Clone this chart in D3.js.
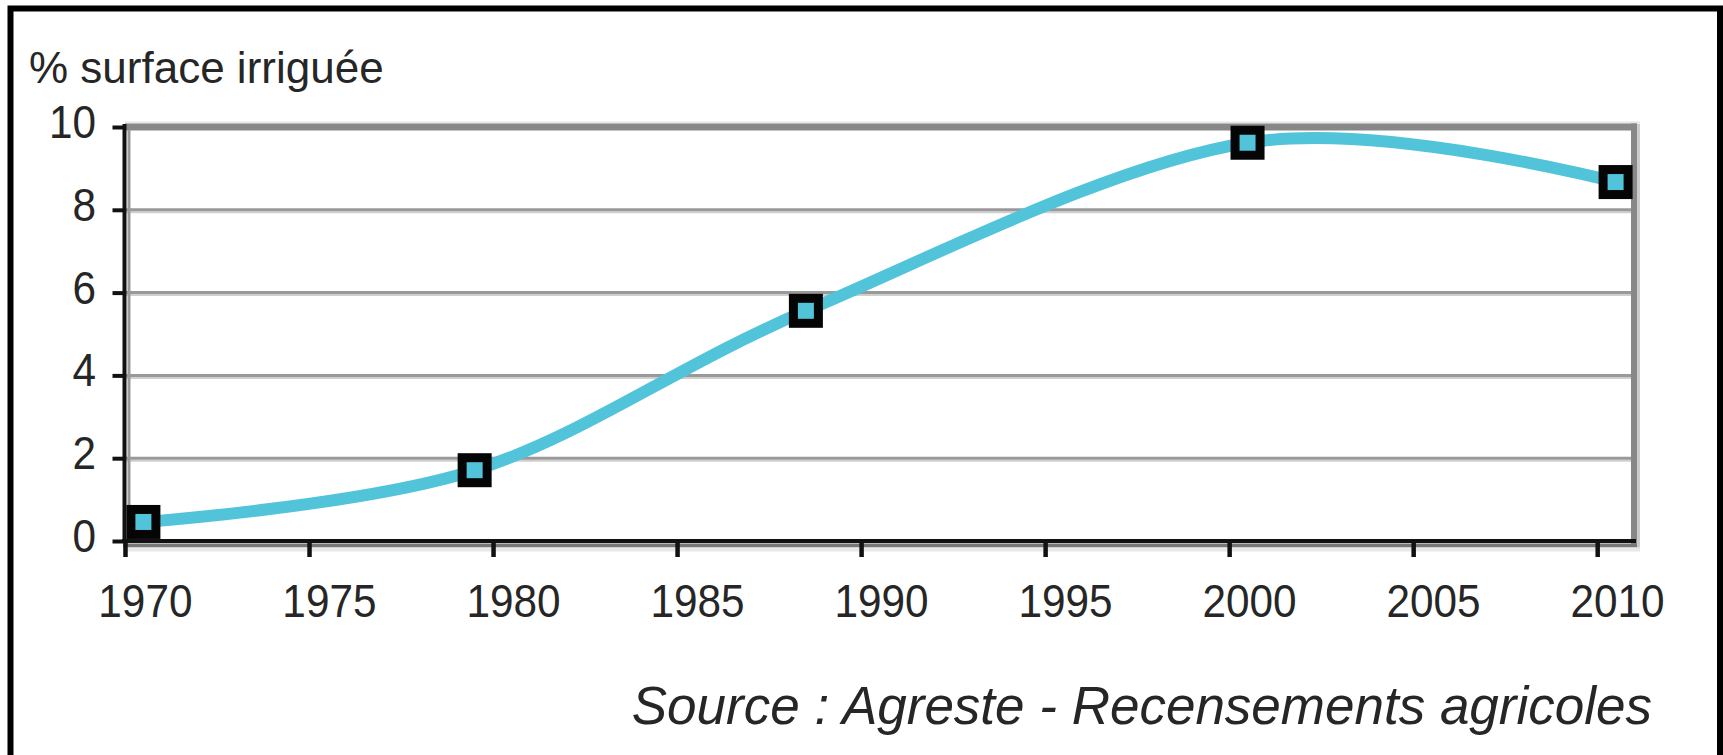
<!DOCTYPE html>
<html>
<head>
<meta charset="utf-8">
<script src="https://cdn.jsdelivr.net/npm/d3@7/dist/d3.min.js"></script>
<style>
  html, body { margin: 0; padding: 0; background: #fff; }
  svg { display: block; }
  text { font-family: "Liberation Sans", Arial, sans-serif; fill: #262626; }
</style>
</head>
<body>
<svg id="chart" width="1723" height="755"></svg>
<script>
// ---- data ----
const years = [1970, 1979, 1988, 2000, 2010];
const values = [0.46, 1.71, 5.56, 9.62, 8.67];
const xTickYears = [1970, 1975, 1980, 1985, 1990, 1995, 2000, 2005, 2010];
const yTickValues = [0, 2, 4, 6, 8, 10];
const yTitle = "% surface irriguée";
const sourceText = "Source : Agreste - Recensements agricoles";

const svg = d3.select("#chart");
const W = 1723, H = 755;
const pLeft = 125, pRight = 1634, pTop = 127, pBottom = 541;

const x = d3.scaleLinear().domain([1970, 2011]).range([pLeft, pRight]);
const y = d3.scaleLinear().domain([0, 10]).range([pBottom, pTop]);
const mid = v => x(v + 0.5);

svg.append("rect").attr("width", W).attr("height", H).attr("fill", "#fff");

// outer frame (left, top, right)
svg.append("path")
  .attr("d", `M10.5,${H + 10} L10.5,8.5 L1720,8.5 L1720,${H + 10}`)
  .attr("fill", "none").attr("stroke", "#000").attr("stroke-width", 6);

// gridlines
const gridVals = yTickValues.filter(v => v > 0 && v < 10);
const grid = svg.append("g");
grid.selectAll("line.g1").data(gridVals).join("line").attr("class", "g1")
  .attr("x1", pLeft).attr("x2", pRight)
  .attr("y1", d => y(d) + 2.5).attr("y2", d => y(d) + 2.5)
  .attr("stroke", "#cfcfcf").attr("stroke-width", 2);
grid.selectAll("line.g2").data(gridVals).join("line").attr("class", "g2")
  .attr("x1", pLeft).attr("x2", pRight)
  .attr("y1", d => y(d)).attr("y2", d => y(d))
  .attr("stroke", "#999").attr("stroke-width", 3);

// plot frame: top & right gray border with light shadow
svg.append("line").attr("x1", pLeft).attr("x2", pRight + 6).attr("y1", pTop - 4.5).attr("y2", pTop - 4.5)
  .attr("stroke", "#e6e6e6").attr("stroke-width", 2);
svg.append("line").attr("x1", pRight + 4.5).attr("x2", pRight + 4.5).attr("y1", pTop - 3).attr("y2", pBottom + 8)
  .attr("stroke", "#cccccc").attr("stroke-width", 3);
svg.append("line").attr("x1", pLeft).attr("x2", pRight + 3).attr("y1", pTop).attr("y2", pTop)
  .attr("stroke", "#888").attr("stroke-width", 7);
svg.append("line").attr("x1", pRight).attr("x2", pRight).attr("y1", pTop - 3.5).attr("y2", pBottom + 5)
  .attr("stroke", "#888").attr("stroke-width", 6);

// inner gray line next to y axis & shadow under x axis
svg.append("line").attr("x1", pLeft + 4).attr("x2", pLeft + 4).attr("y1", pTop + 3).attr("y2", pBottom)
  .attr("stroke", "#999").attr("stroke-width", 3);
svg.append("line").attr("x1", pLeft - 2).attr("x2", pRight + 3).attr("y1", pBottom + 4.5).attr("y2", pBottom + 4.5)
  .attr("stroke", "#777").attr("stroke-width", 4);
svg.append("line").attr("x1", pLeft - 2).attr("x2", pRight + 6).attr("y1", pBottom + 8.5).attr("y2", pBottom + 8.5)
  .attr("stroke", "#e8e8e8").attr("stroke-width", 4);

// x axis
const xAxis = d3.axisBottom(x).tickValues(xTickYears).tickSize(16).tickFormat("");
const gx = svg.append("g").attr("transform", `translate(0,${pBottom})`).call(xAxis);
gx.select(".domain").attr("stroke", "#111").attr("stroke-width", 4)
  .attr("d", `M${pLeft - 3},0H${pRight + 2}`);
gx.selectAll(".tick line").attr("stroke", "#111").attr("stroke-width", 4.5);
svg.append("g").selectAll("text").data(xTickYears).join("text")
  .attr("transform", d => `translate(${mid(d) + 2},617) scale(0.92,1)`)
  .attr("text-anchor", "middle").attr("font-size", 46)
  .text(d => d);

// y axis
const yAxis = d3.axisLeft(y).tickValues(yTickValues).tickSize(12).tickFormat("");
const gy = svg.append("g").attr("transform", `translate(${pLeft - 0.5},0)`).call(yAxis);
gy.select(".domain").attr("stroke", "#111").attr("stroke-width", 4)
  .attr("d", `M0,${pTop - 3}V${pBottom + 2}`);
gy.selectAll(".tick line").attr("stroke", "#111").attr("stroke-width", 4);
svg.append("g").selectAll("text").data(yTickValues).join("text")
  .attr("transform", d => `translate(96,${y(d) + 11}) scale(0.92,1)`)
  .attr("text-anchor", "end").attr("font-size", 46)
  .text(d => d);

// y title
svg.append("text").attr("x", 29).attr("y", 83).attr("font-size", 44).text(yTitle);

// series line
const pts = years.map((yr, i) => [mid(yr), y(values[i])]);
const line = d3.line().curve(d3.curveCatmullRom.alpha(0));
svg.append("path").attr("d", line(pts))
  .attr("fill", "none").attr("stroke", "#52C4DA").attr("stroke-width", 12)
  .attr("stroke-linecap", "butt");

// markers
svg.append("g").selectAll("rect").data(pts).join("rect")
  .attr("x", d => d[0] - 12.5).attr("y", d => d[1] - 12.5)
  .attr("width", 25).attr("height", 25)
  .attr("fill", "#52C4DA").attr("stroke", "#050505").attr("stroke-width", 9);

// source
svg.append("text").attr("x", 1652).attr("y", 724)
  .attr("text-anchor", "end").attr("font-size", 53).attr("font-style", "italic")
  .text(sourceText);
</script>
</body>
</html>
